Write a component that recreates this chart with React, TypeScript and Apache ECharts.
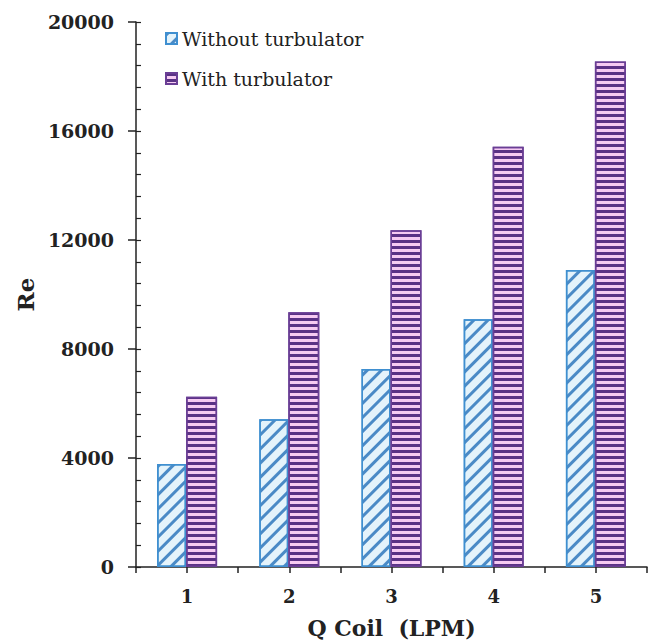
import React, { useEffect, useRef } from "react";
import * as echarts from "echarts";

const categories = [1, 2, 3, 4, 5];
const withoutTurbulator = [3780, 5420, 7270, 9090, 10900];
const withTurbulator = [6250, 9350, 12360, 15420, 18550];
const seriesNames = ["Without turbulator", "With turbulator"];
const yTicks = [0, 4000, 8000, 12000, 16000, 20000];

const SERIF = "'DejaVu Serif', 'Liberation Serif', serif";

export default function App() {
  const ref = useRef<HTMLDivElement>(null);
  useEffect(() => {
    if (!ref.current) return;
    const chart = echarts.init(ref.current, null, { renderer: "svg" });
    const blueDecal = {
      symbol: "rect",
      symbolSize: 1,
      color: "#4a8ac6",
      backgroundColor: "rgba(0,0,0,0)",
      dashArrayX: [1, 0],
      dashArrayY: [2.2, 7],
      rotation: -Math.PI / 4,
    };
    const purpleDecal = {
      symbol: "rect",
      symbolSize: 1,
      color: "#5a3285",
      backgroundColor: "rgba(0,0,0,0)",
      dashArrayX: [1, 0],
      dashArrayY: [2.2, 2.3],
      rotation: 0,
    };
    chart.setOption({
      animation: false,
      backgroundColor: "#ffffff",
      grid: { left: 136, right: 12, top: 22, bottom: 72, containLabel: false },
      legend: {
        orient: "vertical",
        left: 160,
        top: 24,
        itemWidth: 11,
        itemHeight: 11,
        itemGap: 21,
        icon: "rect",
        textStyle: { fontFamily: SERIF, fontSize: 19, color: "#222", lineHeight: 19 },
        data: seriesNames,
      },
      xAxis: {
        type: "value",
        min: 0.5,
        max: 5.5,
        interval: 0.5,
        name: "Q Coil  (LPM)",
        nameLocation: "middle",
        nameGap: 50,
        nameTextStyle: { fontFamily: SERIF, fontSize: 22, fontWeight: "bold", color: "#222" },
        axisLine: { show: true, onZero: false, lineStyle: { color: "#222", width: 1.5 } },
        axisTick: { show: true, length: 6, lineStyle: { color: "#222", width: 1.5 } },
        splitLine: { show: false },
        axisLabel: {
          margin: 20,
          fontFamily: SERIF,
          fontSize: 18,
          fontWeight: "bold",
          color: "#222",
          formatter: (v: number) => (categories.includes(v) ? String(v) : ""),
        },
      },
      yAxis: [
        {
          type: "value",
          min: yTicks[0],
          max: yTicks[yTicks.length - 1],
          interval: 4000,
          name: "Re",
          nameLocation: "middle",
          nameGap: 96,
          nameRotate: 90,
          nameTextStyle: { fontFamily: SERIF, fontSize: 23, fontWeight: "bold", color: "#222" },
          axisLine: { show: true, lineStyle: { color: "#222", width: 1.5 } },
          axisTick: { show: true, length: 8, lineStyle: { color: "#222", width: 1.5 } },
          splitLine: { show: false },
          axisLabel: {
            margin: 22,
            fontFamily: SERIF,
            fontSize: 19,
            fontWeight: "bold",
            color: "#222",
            formatter: (v: number) => String(v),
          },
        },
        {
          type: "value",
          min: 0,
          max: 20000,
          interval: 800,
          position: "left",
          axisLine: { show: false },
          axisTick: { show: true, inside: true, length: 5, lineStyle: { color: "#222", width: 1.2 } },
          axisLabel: { show: false },
          splitLine: { show: false },
        },
      ],
      series: [
        {
          name: seriesNames[0],
          type: "bar",
          barWidth: 29,
          barGap: "0%",
          data: categories.map((c, i) => [c, withoutTurbulator[i]]),
          itemStyle: {
            color: "#e4f3fb",
            borderColor: "#3f8fd0",
            borderWidth: 1.5,
            decal: blueDecal,
          },
        },
        {
          name: seriesNames[1],
          type: "bar",
          barWidth: 31,
          barGap: "0%",
          data: categories.map((c, i) => [c, withTurbulator[i]]),
          itemStyle: {
            color: "#f6cbf2",
            borderColor: "#6a3e95",
            borderWidth: 1.5,
            decal: purpleDecal,
          },
        },
      ],
    });
    return () => chart.dispose();
  }, []);
  return (
    <div
      ref={ref}
      style={{ position: "fixed", left: 0, top: 0, width: 659, height: 644, background: "#fff" }}
    />
  );
}
